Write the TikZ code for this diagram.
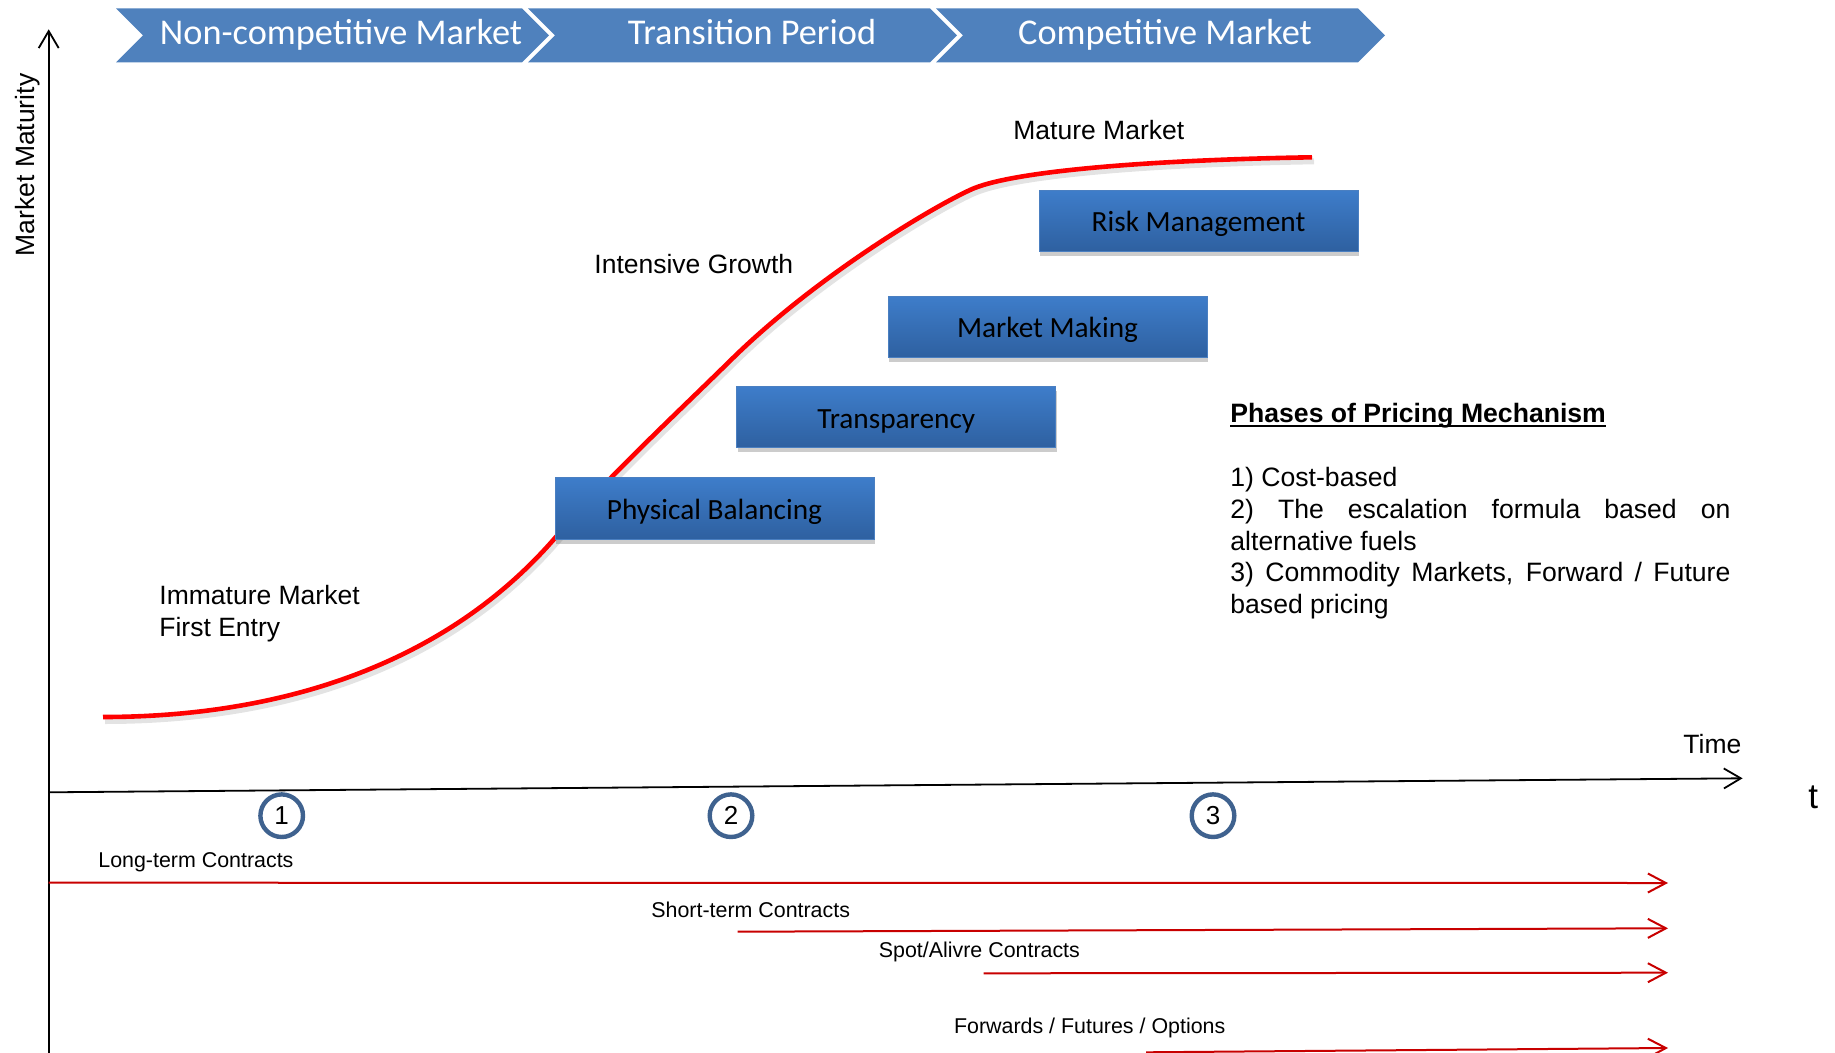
\documentclass[tikz,border=0pt]{standalone}
\usepackage{fontspec}
\setmainfont{Liberation Sans}
\newfontfamily\calibri{Carlito}
\usetikzlibrary{arrows.meta,shadows}
\definecolor{banner}{RGB}{79,129,189}
\definecolor{boxtop}{RGB}{62,125,202}
\definecolor{boxbot}{RGB}{46,96,160}
\definecolor{boxedge}{RGB}{74,127,193}
\definecolor{circ}{RGB}{63,98,143}
\definecolor{contract}{RGB}{200,0,0}
\begin{document}
\begin{tikzpicture}[x=0.5pt,y=-0.5pt,
  bantext/.style={text=white, font=\calibri\fontsize{18.15}{20}\selectfont, anchor=base, inner sep=0},
  phase/.style={minimum width=159.5pt, minimum height=30.75pt, inner sep=0, text height=11pt, text depth=0.2pt,
    top color=boxtop, bottom color=boxbot, draw=boxedge, line width=0.5pt,
    font=\calibri\fontsize{14.65}{17}\selectfont,
    drop shadow={shadow xshift=0.5pt, shadow yshift=-2.2pt, opacity=0.2, fill=black}},
  lbl/.style={font=\fontsize{13.25}{16}\selectfont, anchor=base west, inner sep=0},
  small/.style={font=\fontsize{10.7}{13}\selectfont, anchor=base west, inner sep=0},
  num/.style={circle, draw=circ, line width=2.2pt, minimum size=21.3pt, inner sep=0, font=\fontsize{13}{15}\selectfont},
  axis/.style={line width=0.9pt, -{Straight Barb[length=8.5pt,width=10pt]}},
  contr/.style={draw=contract, line width=1pt, -{Straight Barb[length=9pt,width=9.5pt]}},
  growth/.style={red, line width=2.3pt},
  growthshadow/.style={gray, opacity=0.22, line width=3pt},
]
\useasboundingbox (0,0) rectangle (1835,1053);

% banner
\fill[banner] (116,8.3) -- (522,8.3) -- (549,35.3) -- (522,62.3) -- (116,62.3) -- (143,35.3) -- cycle;
\fill[banner] (528,8.3) -- (930,8.3) -- (957,35.3) -- (930,62.3) -- (528,62.3) -- (555,35.3) -- cycle;
\fill[banner] (936,8.3) -- (1358,8.3) -- (1385,35.3) -- (1358,62.3) -- (936,62.3) -- (963,35.3) -- cycle;
\node[bantext] (b1) at (341,45) {Non-competitive Market};
\node[bantext] (b2) at (752,45) {Transition Period};
\node[bantext] (b3) at (1165,45) {Competitive Market};

% axes
\coordinate (ytop) at (48.7,29.3);
\coordinate (ybot) at (48.7,1053);
\draw[axis] (ybot) -- (ytop);
\coordinate (tstart) at (48.7,792.3);
\coordinate (tend) at (1742.6,778.3);
\draw[axis] (tstart) -- (tend);
\node[lbl, rotate=90, anchor=base] (mm) at (34,165) {Market Maturity};
\node[lbl] (time) at (1683,753) {Time};
\node[lbl, font=\fontsize{17.5}{20}\selectfont] (tt) at (1808,808) {t};

% curve
\def\curvepath{(103,717) .. controls (280,717) and (445,665) .. (555,538) .. controls (611,474) and (675,415) .. (734,357) .. controls (814,279) and (925,211) .. (970,190) .. controls (1010,171) and (1150,160) .. (1312,157.3)}
\draw[growthshadow, shift={(2,4)}] \curvepath;
\draw[growth] \curvepath;

% stage labels
\node[lbl, align=left] (imm) at (159,636) {Immature Market\\First Entry};
\node[lbl] (ig) at (594,274) {Intensive Growth};
\node[lbl] (mat) at (1013,139.3) {Mature Market};

% phase boxes
\node[phase] (pb) at (714.5,508.5) {Physical Balancing};
\node[phase] (tr) at (896.25,417.2) {Transparency};
\node[phase] (mk) at (1047.5,326.85) {Market Making};
\node[phase] (rm) at (1198.5,220.85) {Risk Management};

% pricing phases
\node[lbl, font=\bfseries\fontsize{13.3}{16}\selectfont] (ph) at (1230,422.7) {Phases of Pricing Mechanism};
\draw[line width=0.85pt] ([yshift=-1.5pt]ph.base west) -- ([yshift=-1.5pt]ph.base east);
\node[lbl, align=left, font=\fontsize{13.3}{15.8}\selectfont] (list) at (1230,613.3)
 {1) Cost-based\\\makebox[250pt][s]{2) The escalation formula based on}\\alternative fuels\\\makebox[250pt][s]{3) Commodity Markets, Forward / Future}\\based pricing};

% numbered circles
\node[num] (c1) at (281.7,815.7) {1};
\node[num] (c2) at (731,815.7) {2};
\node[num] (c3) at (1213,815.7) {3};

% contracts
\node[small] (lt) at (98,867) {Long-term Contracts};
\node[small] (st) at (651,917) {Short-term Contracts};
\node[small] (sp) at (878.5,957) {Spot/Alivre Contracts};
\node[small] (fw) at (953.7,1033) {Forwards / Futures / Options};
\coordinate (l1s) at (48.7,882.7); \coordinate (l1e) at (1668,883);
\coordinate (l2s) at (737.7,931.7); \coordinate (l2e) at (1668,928.3);
\coordinate (l3s) at (983.5,973.3); \coordinate (l3e) at (1668,972.7);
\coordinate (l4s) at (1146,1052.3); \coordinate (l4e) at (1668,1048);
\draw[contr] (l1s) -- (l1e);
\draw[contr] (l2s) -- (l2e);
\draw[contr] (l3s) -- (l3e);
\draw[contr] (l4s) -- (l4e);
\end{tikzpicture}
\end{document}
